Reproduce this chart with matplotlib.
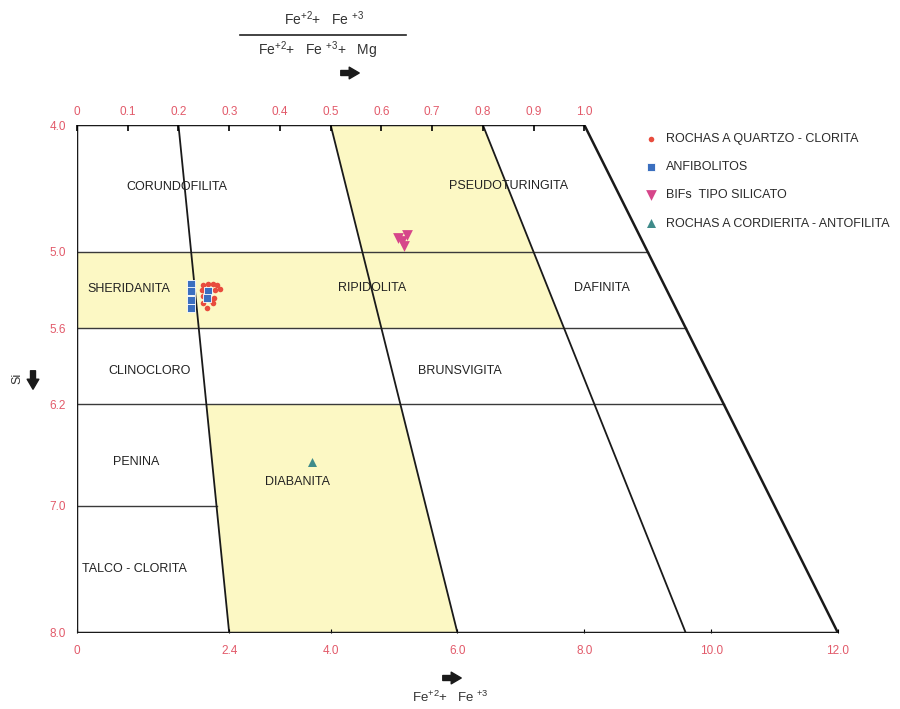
import matplotlib.pyplot as plt
import numpy as np
from matplotlib.patches import Polygon

plt.rcParams['font.family'] = ['Liberation Sans', 'DejaVu Sans']
plt.rcParams['mathtext.default'] = 'regular'

# Fe/(Fe+Mg) dividing lines and Si dividing lines of the diagram
ratio_lines = [0.2, 0.5, 0.8]
si_lines = [5.0, 5.6, 6.2]
si_short = 7.0

# yellow fields: (ratio from, ratio to, Si from, Si to)
yellow_fields = [(0.5, 0.8, 4.0, 5.0), (0.0, 0.8, 5.0, 5.6), (0.2, 0.5, 6.2, 8.0)]

# field names
names = ['CORUNDOFILITA', 'PSEUDOTURINGITA', 'SHERIDANITA', 'RIPIDOLITA', 'DAFINITA',
         'CLINOCLORO', 'BRUNSVIGITA', 'PENINA', 'DIABANITA', 'TALCO - CLORITA']
names_fe = [1.58, 6.81, 0.82, 4.65, 8.27, 1.15, 6.04, 0.93, 3.47, 0.90]
names_si = [4.49, 4.48, 5.29, 5.28, 5.28, 5.94, 5.94, 6.65, 6.81, 7.50]

# samples
qz_fe = [1.99, 2.07, 2.15, 2.21, 1.97, 2.18, 2.25, 1.98, 2.16, 1.99, 2.14, 2.05, 2.09]
qz_si = [5.26, 5.25, 5.25, 5.26, 5.30, 5.30, 5.29, 5.35, 5.36, 5.40, 5.40, 5.44, 5.38]
anf_fe = [1.80, 1.80, 1.80, 1.80, 2.07, 2.05]
anf_si = [5.25, 5.31, 5.38, 5.44, 5.31, 5.36]
bif_fe = [5.06, 5.20, 5.16, 5.12]
bif_si = [4.89, 4.87, 4.95, 4.91]
cord_fe = [3.70]
cord_si = [6.65]

top_ticks = [0, 0.1, 0.2, 0.3, 0.4, 0.5, 0.6, 0.7, 0.8, 0.9, 1.0]
top_labels = ['0', '0.1', '0.2', '0.3', '0.4', '0.5', '0.6', '0.7', '0.8', '0.9', '1.0']
bot_ticks = [0, 2.4, 4.0, 6.0, 8.0, 10.0, 12.0]
bot_labels = ['0', '2.4', '4.0', '6.0', '8.0', '10.0', '12.0']
si_ticks = [4.0, 5.0, 5.6, 6.2, 7.0, 8.0]
si_labels = ['4.0', '5.0', '5.6', '6.2', '7.0', '8.0']

red_txt = '#e25a6a'
W, H = 900, 709


def fe(r, si):
    # total Fe for a given Fe/(Fe+Mg) ratio, Fe+Mg = Si + 4
    return r * (si + 4)


def fp(x, y):
    return (x / W, 1 - y / H)


fig = plt.figure(figsize=(9, 7.09), dpi=100)
ax = fig.add_axes([77 / W, 1 - 633 / H, 761 / W, 508 / H])
ax.set_xlim(0, 12)
ax.set_ylim(8, 4)
for s in ax.spines.values():
    s.set_visible(False)

# yellow fields
for r1, r2, s1, s2 in yellow_fields:
    pts = [(fe(r1, s1), s1), (fe(r2, s1), s1), (fe(r2, s2), s2), (fe(r1, s2), s2)]
    ax.add_patch(Polygon(pts, closed=True, facecolor='#fcf8c4', edgecolor='none', zorder=0))

# horizontal Si lines
for s in si_lines:
    ax.plot([0, fe(1.0, s)], [s, s], color='#3a3a3a', lw=1.0, zorder=1)
ax.plot([0, fe(0.2, si_short)], [si_short, si_short], color='#3a3a3a', lw=1.0, zorder=1)

# slanted ratio lines
for r in ratio_lines:
    ax.plot([fe(r, 4), fe(r, 8)], [4, 8], color='#1a1a1a', lw=1.3, zorder=1)

# outline
ax.plot([0, 0, fe(1.0, 4), fe(1.0, 8), 0], [8, 4, 4, 8, 8], color='#1a1a1a', lw=1.8, zorder=2,
        solid_joinstyle='miter')

# field names
for n, x, y in zip(names, names_fe, names_si):
    ax.text(x, y, n, ha='center', va='center', fontsize=9, color='#222222')

# samples
ax.scatter(qz_fe, qz_si, s=16, marker='o', color='#e84c3d', linewidths=0, zorder=3,
           label='ROCHAS A QUARTZO - CLORITA')
ax.scatter(anf_fe, anf_si, s=40, marker='s', color='#3b6fbf', edgecolors='white',
           linewidths=0.6, zorder=4, label='ANFIBOLITOS')
ax.scatter(bif_fe, bif_si, s=60, marker='v', color='#d6468a', linewidths=0, zorder=4,
           label='BIFs  TIPO SILICATO')
ax.scatter(cord_fe, cord_si, s=42, marker='^', color='#3f8b8a', linewidths=0, zorder=4,
           label='ROCHAS A CORDIERITA - ANTOFILITA')

# axes ticks
ax.set_xticks(bot_ticks)
ax.set_xticklabels(bot_labels)
ax.tick_params(axis='x', direction='in', length=3, pad=9, labelsize=8.5, labelcolor=red_txt)
ax.set_yticks(si_ticks)
ax.set_yticklabels(si_labels)
ax.tick_params(axis='y', length=0, pad=8, labelsize=8.5, labelcolor=red_txt)

ax2 = ax.twiny()
ax2.set_xlim(0, 12)
for s in ax2.spines.values():
    s.set_visible(False)
ax2.set_xticks([fe(t, 4) for t in top_ticks])
ax2.set_xticklabels(top_labels)
ax2.tick_params(axis='x', direction='in', length=4, width=1.2, pad=5, labelsize=8.5, labelcolor=red_txt)

# legend
ax.legend(loc='upper left', bbox_to_anchor=fp(645, 133), bbox_transform=fig.transFigure,
          frameon=False, fontsize=9, handlelength=1.0, handletextpad=0.7,
          labelspacing=1.3, borderpad=0, borderaxespad=0, labelcolor='#2a2a2a')

# axis titles
txt = '#333333'
fig.text(*fp(324, 19), r'Fe$^{+2}$+   Fe $^{+3}$', ha='center', va='center', fontsize=10, color=txt)
fig.add_artist(plt.Line2D([240 / W, 406 / W], [1 - 35 / H, 1 - 35 / H], color='#222222', lw=1.2))
fig.text(*fp(318, 50), r'Fe$^{+2}$+   Fe $^{+3}$+   Mg', ha='center', va='center', fontsize=10, color=txt)
ax.annotate('', xy=fp(362, 73), xytext=fp(338, 73), xycoords='figure fraction',
            textcoords='figure fraction',
            arrowprops=dict(arrowstyle='simple,head_width=0.7,head_length=0.6,tail_width=0.3',
                            color='#1a1a1a', mutation_scale=12))

ax.annotate('', xy=fp(464, 678), xytext=fp(440, 678), xycoords='figure fraction',
            textcoords='figure fraction',
            arrowprops=dict(arrowstyle='simple,head_width=0.7,head_length=0.6,tail_width=0.3',
                            color='#1a1a1a', mutation_scale=12))
fig.text(*fp(450, 697), r'Fe$^{+2}$+   Fe $^{+3}$', ha='center', va='center', fontsize=9.5, color=txt)

fig.text(*fp(17, 378), 'Si', rotation=90, ha='center', va='center', fontsize=9, color=txt)
ax.annotate('', xy=fp(33, 392), xytext=fp(33, 368), xycoords='figure fraction',
            textcoords='figure fraction',
            arrowprops=dict(arrowstyle='simple,head_width=0.7,head_length=0.6,tail_width=0.3',
                            color='#1a1a1a', mutation_scale=12))

fig.savefig('out.png', dpi=100)
